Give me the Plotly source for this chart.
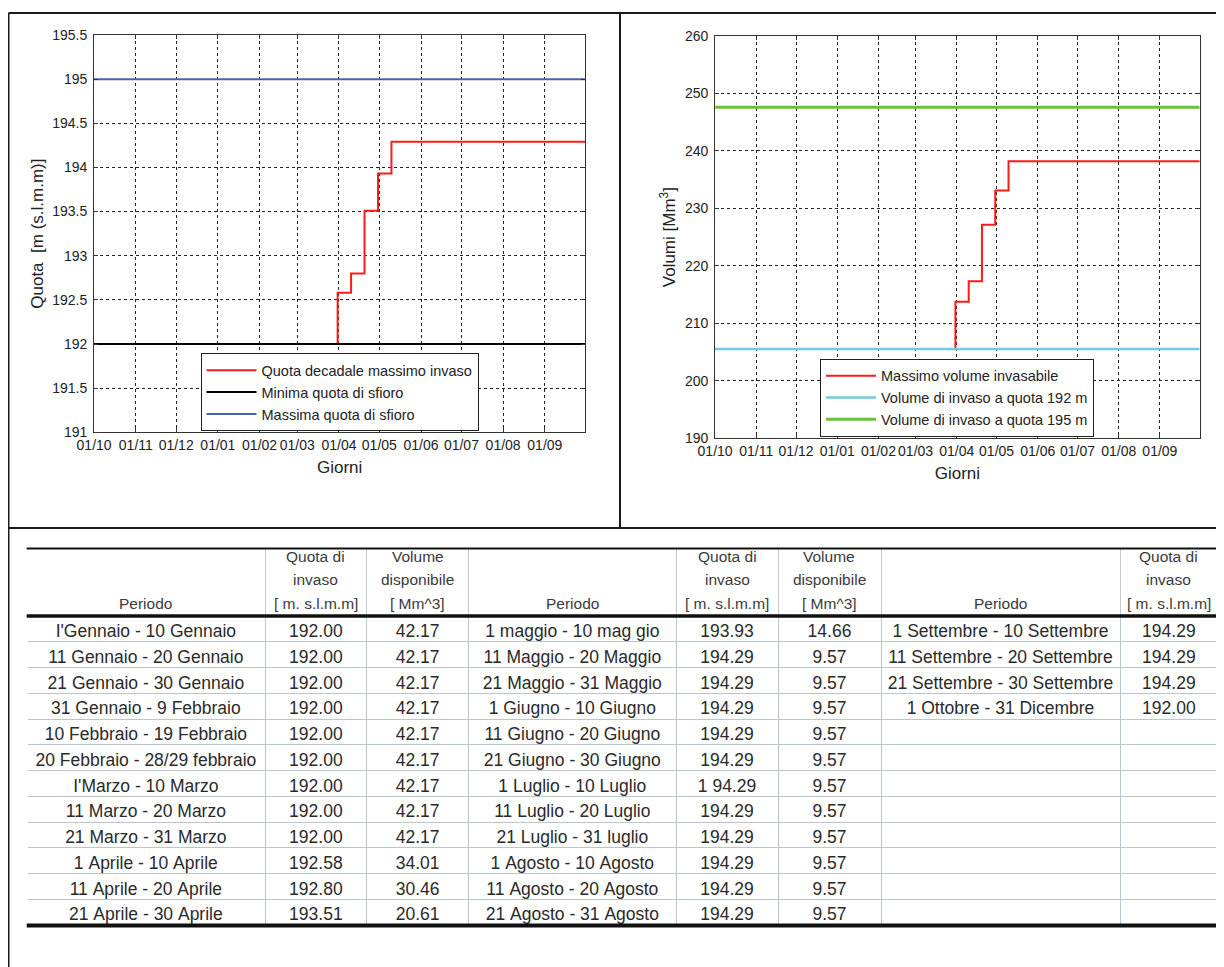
import plotly.graph_objects as go

W, H = 1224, 967
OFF = 8  # margine del body della pagina html
FONT = "Liberation Sans, Arial, sans-serif"

# --- dati grafici -------------------------------------------------------
inizio, fine = "2009-10-01", "2010-10-01"
mesi = ["2009-10-01", "2009-11-01", "2009-12-01", "2010-01-01", "2010-02-01",
        "2010-03-01", "2010-04-01", "2010-05-01", "2010-06-01", "2010-07-01",
        "2010-08-01", "2010-09-01"]
etichette_mesi = ["01/10", "01/11", "01/12", "01/01", "01/02", "01/03",
                  "01/04", "01/05", "01/06", "01/07", "01/08", "01/09"]

date_gradini = ["2009-10-01", "2010-03-31", "2010-04-10", "2010-04-20",
                "2010-04-30", "2010-05-10", "2010-10-01"]
quota_decadale = [192.00, 192.58, 192.80, 193.51, 193.93, 194.29, 194.29]
quota_minima = [192.0, 192.0]
quota_massima = [195.0, 195.0]

volume_massimo = [205.53, 213.76, 217.31, 227.16, 233.11, 238.20, 238.20]
volume_192 = [205.53, 205.53]
volume_195 = [247.6, 247.6]

# --- dati tabella -------------------------------------------------------
periodo_1 = ["I'Gennaio - 10 Gennaio", "11 Gennaio - 20 Gennaio",
             "21 Gennaio - 30 Gennaio", "31 Gennaio - 9 Febbraio",
             "10 Febbraio - 19 Febbraio", "20 Febbraio - 28/29 febbraio",
             "I'Marzo - 10 Marzo", "11 Marzo - 20 Marzo", "21 Marzo - 31 Marzo",
             "1 Aprile - 10 Aprile", "11 Aprile - 20 Aprile",
             "21 Aprile - 30 Aprile"]
quota_1 = ["192.00"] * 9 + ["192.58", "192.80", "193.51"]
volume_1 = ["42.17"] * 9 + ["34.01", "30.46", "20.61"]

periodo_2 = ["1 maggio - 10 mag gio", "11 Maggio - 20 Maggio",
             "21 Maggio - 31 Maggio", "1 Giugno - 10 Giugno",
             "11 Giugno - 20 Giugno", "21 Giugno - 30 Giugno",
             "1 Luglio - 10 Luglio", "11 Luglio - 20 Luglio",
             "21 Luglio - 31 luglio", "1 Agosto - 10 Agosto",
             "11 Agosto - 20 Agosto", "21 Agosto - 31 Agosto"]
quota_2 = ["193.93", "194.29", "194.29", "194.29", "194.29", "194.29",
           "1 94.29", "194.29", "194.29", "194.29", "194.29", "194.29"]
volume_2 = ["14.66"] + ["9.57"] * 11

periodo_3 = ["1 Settembre - 10 Settembre", "11 Settembre - 20 Settembre",
             "21 Settembre - 30 Settembre", "1 Ottobre - 31 Dicembre"] + [""] * 8
quota_3 = ["194.29", "194.29", "194.29", "192.00"] + [""] * 8

# intestazioni su tre righe
intestazioni = [
    ["", "", "Periodo"],
    ["Quota di", "invaso", "[ m. s.l.m.m]"],
    ["Volume", "disponibile", "[ Mm^3]"],
    ["", "", "Periodo"],
    ["Quota di", "invaso", "[ m. s.l.m.m]"],
    ["Volume", "disponibile", "[ Mm^3]"],
    ["", "", "Periodo"],
    ["Quota di", "invaso", "[ m. s.l.m.m]"],
]
righe_intestazione_y = [556.7, 579, 603]

# bordi colonne in pixel
bordi_col = [26.7, 265, 366.7, 468.6, 676, 778, 881, 1120, 1217.7]


def px(x):
    return (x - OFF) / W


def py(y):
    return 1 - (y - OFF) / H


def senza_a_capo(col):
    return [s.replace(" ", "\u00a0") for s in col]


fig = go.Figure()

# grafico quote
fig.add_trace(go.Scatter(x=date_gradini, y=quota_decadale, mode="lines",
                         line=dict(color="#ff1a1a", width=2, shape="hv"),
                         name="Quota decadale massimo invaso",
                         xaxis="x", yaxis="y", legend="legend"))
fig.add_trace(go.Scatter(x=[inizio, fine], y=quota_minima, mode="lines",
                         line=dict(color="#000000", width=2),
                         name="Minima quota di sfioro",
                         xaxis="x", yaxis="y", legend="legend"))
fig.add_trace(go.Scatter(x=[inizio, fine], y=quota_massima, mode="lines",
                         line=dict(color="#4662b4", width=2),
                         name="Massima quota di sfioro",
                         xaxis="x", yaxis="y", legend="legend"))

# grafico volumi
fig.add_trace(go.Scatter(x=date_gradini, y=volume_massimo, mode="lines",
                         line=dict(color="#ff1a1a", width=2, shape="hv"),
                         name="Massimo volume invasabile",
                         xaxis="x2", yaxis="y2", legend="legend2"))
fig.add_trace(go.Scatter(x=[inizio, fine], y=volume_192, mode="lines",
                         line=dict(color="#72cbe2", width=2.5),
                         name="Volume di invaso a quota 192 m",
                         xaxis="x2", yaxis="y2", legend="legend2"))
fig.add_trace(go.Scatter(x=[inizio, fine], y=volume_195, mode="lines",
                         line=dict(color="#6cbf3c", width=3),
                         name="Volume di invaso a quota 195 m",
                         xaxis="x2", yaxis="y2", legend="legend2"))

# tabella
larghezze = [b - a for a, b in zip(bordi_col[:-1], bordi_col[1:])]
colonne = [periodo_1, quota_1, volume_1, periodo_2, quota_2, volume_2,
           periodo_3, quota_3]
fig.add_trace(go.Table(
    domain=dict(x=[px(bordi_col[0]), px(bordi_col[-1])], y=[py(940), py(548)]),
    columnwidth=larghezze,
    header=dict(values=[""] * len(colonne), height=68,
                fill_color="white", line=dict(color="#c4ccd2", width=1)),
    cells=dict(values=[senza_a_capo(c) for c in colonne],
               height=25.75, align="center",
               font=dict(family=FONT, size=17.5, color="#2a2a2a"),
               fill_color="white", line=dict(color="#b9c6d0", width=1)),
))

for a, b, righe in zip(bordi_col[:-1], bordi_col[1:], intestazioni):
    for testo, y in zip(righe, righe_intestazione_y):
        if testo:
            fig.add_annotation(x=px((a + b) / 2), y=py(y), xref="paper",
                               yref="paper", text=testo, showarrow=False,
                               xanchor="center", yanchor="middle",
                               font=dict(family=FONT, size=15.5,
                                         color="#3a3a3a"))

asse_x = dict(type="date", range=[inizio, fine], tickvals=mesi,
              ticktext=etichette_mesi, tickangle=0, ticks="inside", ticklen=4,
              tickcolor="#333", showline=True, linecolor="#333", linewidth=1,
              mirror="ticks", showgrid=True, gridcolor="#222", gridwidth=1,
              griddash="3px,3px", zeroline=False, ticklabelstandoff=0,
              tickfont=dict(family=FONT, size=14, color="#222"),
              title=dict(text="Giorni", standoff=9,
                         font=dict(family=FONT, size=17, color="#222")))
asse_y = dict(ticks="inside", ticklen=4, tickcolor="#333", showline=True,
              linecolor="#333", linewidth=1, mirror="ticks", showgrid=True,
              gridcolor="#222", gridwidth=1, griddash="3px,3px",
              zeroline=False, ticklabelstandoff=3,
              tickfont=dict(family=FONT, size=14, color="#222"))

fig.update_layout(
    width=W, height=H, margin=dict(l=0, r=0, t=0, b=0),
    template="none", paper_bgcolor="white", plot_bgcolor="white",
    font=dict(family=FONT, color="#222"),
    xaxis=dict(asse_x, domain=[px(94.1), px(585.2)], anchor="y"),
    yaxis=dict(asse_y, domain=[py(432.3), py(35)], anchor="x",
               range=[191, 195.5], dtick=0.5,
               title=dict(text="Quota\u00a0 [m (s.l.m.m)]", standoff=4,
                          font=dict(family=FONT, size=17, color="#222"))),
    xaxis2=dict(asse_x, domain=[px(715.1), px(1199.7)], anchor="y2"),
    yaxis2=dict(asse_y, domain=[py(438.3), py(36)], anchor="x2",
                range=[190, 260], dtick=10,
                title=dict(text="Volumi [Mm<sup>3</sup>]", standoff=4,
                           font=dict(family=FONT, size=17, color="#222"))),
    legend=dict(x=px(200.5), y=py(353.3), xanchor="left", yanchor="top",
                bgcolor="white", bordercolor="#222", borderwidth=1,
                itemwidth=50, font=dict(family=FONT, size=14.5, color="#222")),
    legend2=dict(x=px(820), y=py(358.7), xanchor="left", yanchor="top",
                 bgcolor="white", bordercolor="#222", borderwidth=1,
                 itemwidth=50, font=dict(family=FONT, size=14.5, color="#222")),
    showlegend=True,
)

# cornice
bordo = dict(color="#1a1a1a", width=2)
for x0, y0, x1, y1 in [(8.5, 13, W + OFF, 13), (8.5, 13, 8.5, H + OFF),
                       (620, 13, 620, 528), (8.5, 528, W + OFF, 528)]:
    fig.add_shape(type="line", xref="paper", yref="paper", x0=px(x0),
                  y0=py(y0), x1=px(x1), y1=py(y1), line=bordo)

# bordi esterni della tabella nascosti, righe spesse
for x in (bordi_col[0], bordi_col[-1]):
    fig.add_shape(type="line", xref="paper", yref="paper", x0=px(x), x1=px(x),
                  y0=py(548), y1=py(926), line=dict(color="white", width=2))
for y, w in [(548.5, 2), (616, 3.5), (925.5, 4)]:
    fig.add_shape(type="line", xref="paper", yref="paper", x0=px(bordi_col[0]),
                  y0=py(y), x1=px(bordi_col[-1]), y1=py(y),
                  line=dict(color="#111", width=w))

fig.write_html("out.html")
